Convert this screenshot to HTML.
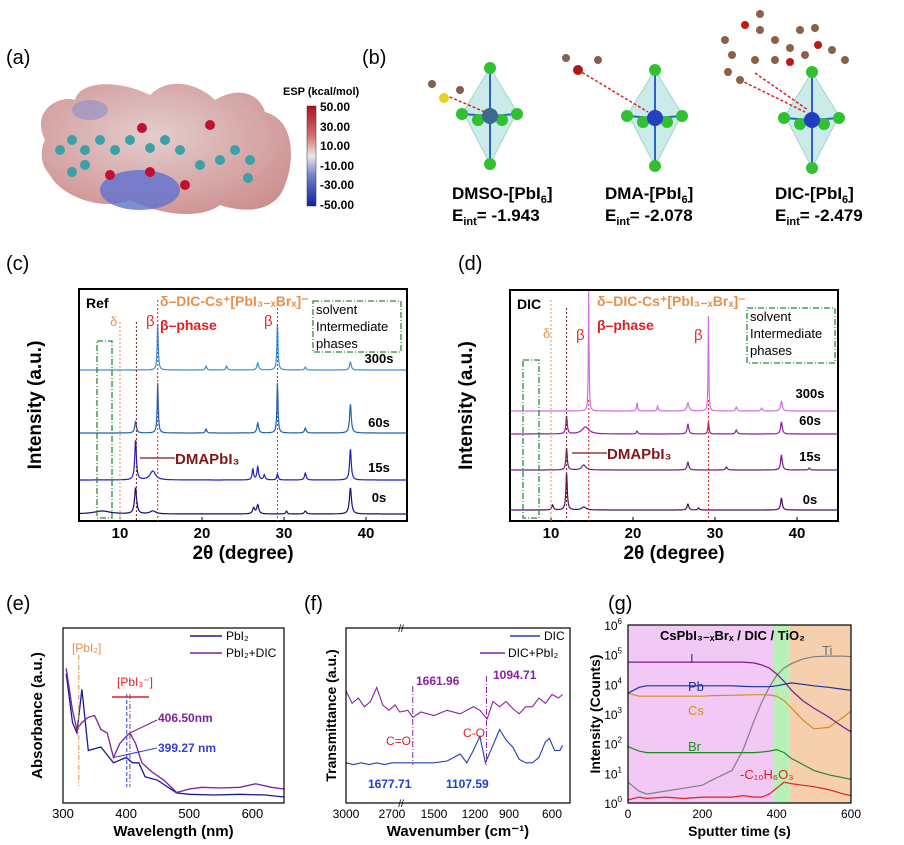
<!DOCTYPE html>
<html><head><meta charset="utf-8"><style>
html,body{margin:0;padding:0;background:#fff;}
svg{display:block;font-family:"Liberation Sans",Arial,sans-serif;}
</style></head><body>
<svg id="fig" width="904" height="845" viewBox="0 0 904 845" xmlns="http://www.w3.org/2000/svg">
<defs>
<linearGradient id="cbar" x1="0" y1="0" x2="0" y2="1">
<stop offset="0" stop-color="#b01020"/><stop offset="0.3" stop-color="#d07070"/><stop offset="0.5" stop-color="#e8e8e8"/><stop offset="0.7" stop-color="#7080c8"/><stop offset="1" stop-color="#1020a0"/></linearGradient>
<radialGradient id="esp" cx="0.45" cy="0.4" r="0.7"><stop offset="0" stop-color="#e0c8c8"/><stop offset="1" stop-color="#c88080"/></radialGradient>
</defs>
<g font-size="20">
<text x="6" y="64">(a)</text><text x="362" y="64">(b)</text>
<text x="6" y="270">(c)</text><text x="458" y="270">(d)</text>
<text x="6" y="610">(e)</text><text x="304" y="610">(f)</text><text x="608" y="610">(g)</text>
</g>
<!-- panel a -->
<g>
<path d="M45,140 C30,110 60,95 75,100 C80,80 120,80 150,95 C170,75 200,85 215,100 C240,85 260,95 265,112 C295,120 295,160 285,185 C275,215 240,212 220,205 C200,220 160,215 130,200 C100,212 60,195 50,175 C40,165 40,150 45,140Z" fill="url(#esp)" opacity="0.9"/>
<ellipse cx="140" cy="190" rx="40" ry="20" fill="#6070d0" opacity="0.8"/>
<ellipse cx="90" cy="110" rx="18" ry="10" fill="#8a90c8" opacity="0.6"/>
<g fill="#3ba0a8"><circle cx="60" cy="150" r="5"/><circle cx="72" cy="140" r="5"/><circle cx="85" cy="150" r="5"/><circle cx="85" cy="165" r="5"/><circle cx="72" cy="172" r="5"/><circle cx="100" cy="140" r="5"/><circle cx="115" cy="150" r="5"/><circle cx="130" cy="140" r="5"/><circle cx="150" cy="148" r="5"/><circle cx="165" cy="140" r="5"/><circle cx="180" cy="150" r="5"/><circle cx="200" cy="165" r="5"/><circle cx="220" cy="160" r="5"/><circle cx="235" cy="150" r="5"/><circle cx="250" cy="160" r="5"/><circle cx="248" cy="178" r="5"/></g>
<g fill="#c01030"><circle cx="142" cy="128" r="5"/><circle cx="210" cy="125" r="5"/><circle cx="150" cy="172" r="5"/><circle cx="185" cy="185" r="5"/><circle cx="110" cy="175" r="5"/></g>
</g>
<g font-size="12" font-weight="bold">
<text x="283" y="95" font-size="11">ESP (kcal/mol)</text>
<rect x="307" y="106" width="9" height="100" fill="url(#cbar)" stroke="#333" stroke-width="0.5"/>
<text x="320" y="111">50.00</text><text x="320" y="131">30.00</text><text x="320" y="150">10.00</text><text x="320" y="170">-10.00</text><text x="320" y="189">-30.00</text><text x="320" y="209">-50.00</text>
</g>
<!-- panel b -->
<g id="octs"></g>
<g font-size="17" font-weight="bold">
<text x="452" y="199">DMSO-[PbI<tspan font-size="11" dy="4">6</tspan><tspan dy="-4">]</tspan></text>
<text x="452" y="221">E<tspan font-size="11" dy="4">int</tspan><tspan dy="-4">= -1.943</tspan></text>
<text x="605" y="199">DMA-[PbI<tspan font-size="11" dy="4">6</tspan><tspan dy="-4">]</tspan></text>
<text x="605" y="221">E<tspan font-size="11" dy="4">int</tspan><tspan dy="-4">= -2.078</tspan></text>
<text x="775" y="199">DIC-[PbI<tspan font-size="11" dy="4">6</tspan><tspan dy="-4">]</tspan></text>
<text x="775" y="221">E<tspan font-size="11" dy="4">int</tspan><tspan dy="-4">= -2.479</tspan></text>
</g>
<g id="charts"></g>
</svg>
<script>
// ===== XRD data (c) Ref =====
const refLabels = ["0s","15s","60s","300s"];
const refPeaks0 = [[7.8,3,1.2],[11.9,26,0.15],[14.0,3,0.4],[26.3,6,0.15],[26.8,9,0.15],[30.3,3,0.1],[32.6,3,0.15],[38.1,26,0.15]];
const refPeaks15 = [[11.9,40,0.12],[14.0,9,0.4],[26.2,11,0.1],[26.8,13,0.12],[27.6,5,0.12],[29.2,6,0.1],[32.6,7,0.12],[38.1,31,0.12]];
const refPeaks60 = [[11.9,12,0.12],[14.6,50,0.08],[20.5,4,0.1],[26.8,10,0.12],[29.2,50,0.08],[32.6,5,0.12],[38.1,29,0.12]];
const refPeaks300 = [[14.6,46,0.08],[20.5,4,0.1],[23,4,0.1],[26.8,7,0.12],[29.2,46,0.08],[32.6,3,0.1],[38.1,8,0.12]];
const refBase = [514,480,433,370];
// ===== XRD data (d) DIC =====
const dicPeaks0 = [[10.2,5,0.12],[11.9,37,0.1],[14.0,3,0.3],[26.7,6,0.12],[28,2,0.1],[38.1,12,0.12]];
const dicPeaks15 = [[11.9,22,0.1],[14.0,5,0.3],[26.7,8,0.12],[31.4,3,0.12],[38.1,15,0.12],[41.5,2,0.1]];
const dicPeaks60 = [[11.9,18,0.1],[14.2,7,0.5],[20.5,3,0.1],[26.7,10,0.12],[29.2,12,0.08],[32.6,4,0.12],[38.1,12,0.12]];
const dicPeaks300 = [[14.6,120,0.05],[20.5,8,0.08],[23,5,0.08],[26.7,8,0.15],[29.2,95,0.05],[32.6,4,0.1],[35.7,3,0.1],[38.1,10,0.12]];
const dicBase = [510,470,434,411];
// ===== UV-vis (e) =====
const uvDicWl = [305,315,322,330,340,350,360,370,380,390,400,406,415,425,440,460,480,500,520,550,580,605,630,650];
const uvDicAbs = [0.77,0.53,0.42,0.46,0.49,0.50,0.42,0.40,0.26,0.34,0.38,0.40,0.34,0.23,0.18,0.13,0.06,0.08,0.09,0.086,0.09,0.11,0.09,0.08];
const uvPbWl = [305,315,322,330,340,360,380,400,410,420,430,450,480,500,540,580,620,650];
const uvPbAbs = [0.74,0.46,0.40,0.65,0.30,0.32,0.23,0.26,0.23,0.23,0.15,0.13,0.057,0.05,0.046,0.05,0.046,0.034];
// ===== FTIR (f) =====
const irDicWn = [3000,2950,2900,2850,2800,2750,2700,2650,1700,1677,1600,1500,1400,1300,1250,1200,1150,1108,1050,1000,950,900,850,800,750,700,650,620,580,540,520];
const irDicT = [0.23,0.22,0.23,0.22,0.23,0.22,0.23,0.23,0.23,0.23,0.23,0.23,0.24,0.28,0.23,0.30,0.38,0.23,0.33,0.42,0.36,0.32,0.25,0.23,0.23,0.26,0.35,0.37,0.30,0.30,0.33];
const irMixWn = [3000,2960,2920,2880,2840,2800,2760,2720,2680,2650,1700,1662,1600,1500,1400,1300,1200,1150,1095,1050,1000,950,900,850,800,750,700,650,600,550,520];
const irMixT = [0.64,0.57,0.60,0.55,0.58,0.66,0.56,0.53,0.56,0.52,0.53,0.49,0.52,0.50,0.53,0.51,0.55,0.53,0.48,0.58,0.55,0.58,0.54,0.51,0.55,0.55,0.60,0.57,0.62,0.60,0.62];
// ===== ToF-SIMS (g) log10 counts =====
const simsT = [0,30,50,100,150,200,230,280,310,340,360,380,400,420,440,470,500,540,580,600];
const simsI = [4.75,4.75,4.75,4.75,4.75,4.75,4.75,4.75,4.75,4.72,4.65,4.55,4.35,4.1,3.8,3.45,3.2,2.9,2.55,2.4];
const simsPb = [3.7,3.9,3.95,3.95,3.95,3.95,3.95,3.95,3.93,3.92,3.92,3.92,3.95,4.0,4.05,4.0,3.95,3.9,3.83,3.8];
const simsCs = [3.7,3.6,3.6,3.6,3.6,3.6,3.62,3.63,3.64,3.65,3.65,3.64,3.6,3.45,3.2,2.8,2.5,2.55,2.9,3.1];
const simsTi = [0.7,0.4,0.3,0.4,0.5,0.6,0.8,1.1,1.8,2.8,3.4,3.9,4.3,4.55,4.7,4.85,4.93,4.95,4.95,4.93];
const simsBr = [1.9,1.75,1.7,1.7,1.7,1.7,1.7,1.7,1.7,1.7,1.72,1.75,1.8,1.7,1.5,1.3,1.1,0.95,0.85,0.8];
const simsC = [0.1,0.2,0.15,0.2,0.15,0.2,0.2,0.2,0.25,0.2,0.2,0.3,0.5,0.7,0.65,0.6,0.55,0.45,0.3,0.25];

const NS="http://www.w3.org/2000/svg";
const root=document.getElementById('charts');
function el(tag,attrs,parent,text){const e=document.createElementNS(NS,tag);for(const k in attrs)e.setAttribute(k,attrs[k]);if(text!==undefined)e.textContent=text;(parent||root).appendChild(e);return e;}
function txt(x,y,s,size,extra,parent){const a=Object.assign({x:x,y:y,'font-size':size},extra||{});return el('text',a,parent,s);}

// ---------- XRD panel ----------
function xrd(x0,x1,y0,y1,peaksArr,bases,colors,labels,title,labY,tag){
  const g=el('g',{});
  
  
  const sx=t=>x0+(t-5)/(45-5)*(x1-x0);
  for(let s=0;s<peaksArr.length;s++){
    let d='';
    for(let t=5;t<=45.001;t+=0.04){
      let v=0;for(const p of peaksArr[s]){const w=p[2];v+=p[1]*w*w/((t-p[0])*(t-p[0])+w*w);}
      d+=(d?'L':'M')+sx(t).toFixed(1)+','+(bases[s]-v).toFixed(1);
    }
    const path=el('path',{d:d,fill:'none',stroke:colors[s],'stroke-width':1.2},g);
    
    
    const lt=txt(x1-28,labY[s],labels[s],13,{'font-weight':'bold','text-anchor':'middle'},g);
    
    
  }
  el('rect',{x:x0,y:y0,width:x1-x0,height:y1-y0,fill:'none',stroke:'#000','stroke-width':2},g);
  [10,20,30,40].forEach(t=>{el('line',{x1:sx(t),x2:sx(t),y1:y1,y2:y1-4,stroke:'#000'},g);txt(sx(t),y1+17,String(t),15,{'font-weight':'bold','text-anchor':'middle'},g);});
  txt((x0+x1)/2,y1+38,'2θ (degree)',19,{'font-weight':'bold','text-anchor':'middle'},g);
  txt(x0-38,(y0+y1)/2,'Intensity (a.u.)',19,{'font-weight':'bold','text-anchor':'middle',transform:`rotate(-90 ${x0-38} ${(y0+y1)/2})`},g);
  txt(x0+7,y0+19,title,14,{'font-weight':'bold'},g);
  return {g,sx};
}
// (c)
let c=xrd(79,407,289,521,[refPeaks0,refPeaks15,refPeaks60,refPeaks300],refBase,['#101070','#2020c0','#2060b0','#3a90dc'],refLabels,'Ref',[502,472,427,363],'ref');
el('line',{x1:c.sx(10),x2:c.sx(10),y1:322,y2:521,stroke:'#e09050','stroke-dasharray':'2,2'},c.g);
el('line',{x1:c.sx(12),x2:c.sx(12),y1:322,y2:521,stroke:'#801818','stroke-dasharray':'2,2'},c.g);
el('line',{x1:c.sx(14.6),x2:c.sx(14.6),y1:300,y2:521,stroke:'#e02020','stroke-dasharray':'2,2'},c.g);
el('line',{x1:c.sx(29.2),x2:c.sx(29.2),y1:300,y2:521,stroke:'#e02020','stroke-dasharray':'2,2'},c.g);
el('rect',{x:97,y:341,width:15,height:177,fill:'none',stroke:'#2a8a3a','stroke-dasharray':'6,2,1,2','stroke-width':1.3},c.g);
el('rect',{x:313,y:301,width:88,height:51,fill:'none',stroke:'#2a8a3a','stroke-dasharray':'6,2,1,2','stroke-width':1.3},c.g);
txt(316,314,'solvent',13,{},c.g);txt(316,331,'Intermediate',13,{},c.g);txt(316,348,'phases',13,{},c.g);
txt(160,306,'δ–DIC-Cs⁺[PbI₃₋ₓBrₓ]⁻',14,{fill:'#e8904a','font-weight':'bold'},c.g);
txt(160,330,'β–phase',14,{fill:'#e02020','font-weight':'bold'},c.g);
txt(110,326,'δ',13,{fill:'#e8904a'},c.g);
txt(146,326,'β',15,{fill:'#e03030'},c.g);txt(264,326,'β',15,{fill:'#e03030'},c.g);
el('line',{x1:175,x2:140,y1:458,y2:458,stroke:'#801818','stroke-width':1.2},c.g);
txt(175,464,'DMAPbI₃',15,{fill:'#801818','font-weight':'bold'},c.g);
// (d)
let dd=xrd(510,838,290,521,[dicPeaks0,dicPeaks15,dicPeaks60,dicPeaks300],dicBase,['#501060','#702080','#9020a0','#d070e0'],refLabels,'DIC',[504,461,425,398],'dic');
el('line',{x1:dd.sx(10),x2:dd.sx(10),y1:300,y2:521,stroke:'#e09050','stroke-dasharray':'2,2'},dd.g);
el('line',{x1:dd.sx(11.9),x2:dd.sx(11.9),y1:308,y2:521,stroke:'#801818','stroke-dasharray':'2,2'},dd.g);
el('line',{x1:dd.sx(14.6),x2:dd.sx(14.6),y1:400,y2:521,stroke:'#e02020','stroke-dasharray':'2,2'},dd.g);
el('line',{x1:dd.sx(29.2),x2:dd.sx(29.2),y1:400,y2:521,stroke:'#e02020','stroke-dasharray':'2,2'},dd.g);
el('rect',{x:523,y:360,width:16,height:158,fill:'none',stroke:'#2a8a3a','stroke-dasharray':'6,2,1,2','stroke-width':1.3},dd.g);
el('rect',{x:747,y:308,width:88,height:55,fill:'none',stroke:'#2a8a3a','stroke-dasharray':'6,2,1,2','stroke-width':1.3},dd.g);
txt(750,321,'solvent',13,{},dd.g);txt(750,338,'Intermediate',13,{},dd.g);txt(750,355,'phases',13,{},dd.g);
txt(597,306,'δ–DIC-Cs⁺[PbI₃₋ₓBrₓ]⁻',14,{fill:'#e8904a','font-weight':'bold'},dd.g);
txt(597,330,'β–phase',14,{fill:'#e02020','font-weight':'bold'},dd.g);
txt(543,338,'δ',13,{fill:'#e8904a'},dd.g);
txt(576,340,'β',15,{fill:'#e03030'},dd.g);txt(694,340,'β',15,{fill:'#e03030'},dd.g);
el('line',{x1:607,x2:572,y1:453,y2:453,stroke:'#801818','stroke-width':1.2},dd.g);
txt(607,459,'DMAPbI₃',15,{fill:'#801818','font-weight':'bold'},dd.g);

// ---------- (e) UV-vis ----------
(function(){
  const g=el('g',{});
  const x0=63,x1=284,y0=628,y1=803;
  const sx=w=>x0+(w-300)/(650-300)*(x1-x0), sy=v=>y1-v*(y1-y0);
  function line(xs,ys,col,name){let d='';xs.forEach((x,i)=>d+=(i?'L':'M')+sx(x).toFixed(1)+','+sy(ys[i]).toFixed(1));const p=el('path',{d:d,fill:'none',stroke:col,'stroke-width':1.3},g);}
  line(uvPbWl,uvPbAbs,'#1a1a90','pbi2-spectrum');line(uvDicWl,uvDicAbs,'#7a20a0','pbi2-dic-spectrum');
  el('rect',{x:x0,y:y0,width:x1-x0,height:y1-y0,fill:'none',stroke:'#000','stroke-width':1.2},g);
  [300,400,500,600].forEach(w=>txt(sx(w),y1+15,String(w),13,{'text-anchor':'middle'},g));
  txt((x0+x1)/2,y1+33,'Wavelength (nm)',15,{'font-weight':'bold','text-anchor':'middle'},g);
  txt(42,(y0+y1)/2,'Absorbance (a.u.)',15,{'font-weight':'bold','text-anchor':'middle',transform:`rotate(-90 42 ${(y0+y1)/2})`},g);
  el('line',{x1:sx(325),x2:sx(325),y1:655,y2:786,stroke:'#e09040','stroke-dasharray':'5,2,1,2'},g);
  txt(72,652,'[PbI₂]',12,{fill:'#e09040'},g);
  el('line',{x1:sx(401),x2:sx(401),y1:694,y2:787,stroke:'#3040d0','stroke-dasharray':'4,2'},g);
  el('line',{x1:sx(406),x2:sx(406),y1:694,y2:787,stroke:'#8030b0','stroke-dasharray':'5,2,1,2'},g);
  txt(117,686,'[PbI₃⁻]',12,{fill:'#e02020'},g);
  el('line',{x1:112,x2:149,y1:697,y2:697,stroke:'#e02020','stroke-width':1.5},g);
  el('line',{x1:sx(406),x2:157,y1:sy(0.40),y2:720,stroke:'#7a20a0'},g);
  txt(158,722,'406.50nm',12,{fill:'#7a20a0','font-weight':'bold'},g);
  el('line',{x1:sx(380),x2:157,y1:sy(0.26),y2:748,stroke:'#3040d0'},g);
  txt(158,752,'399.27 nm',12,{fill:'#3040d0','font-weight':'bold'},g);
  el('line',{x1:190,x2:222,y1:636,y2:636,stroke:'#1a1a90','stroke-width':1.5},g);txt(226,640,'PbI₂',12,{},g);
  el('line',{x1:190,x2:222,y1:653,y2:653,stroke:'#7a20a0','stroke-width':1.5},g);txt(226,657,'PbI₂+DIC',12,{},g);
})();

// ---------- (f) FTIR ----------
(function(){
  const g=el('g',{});
  const x0=346,x1=570,y0=628,y1=803;
  const sx=w=>w>=2600?x0+(3000-w)*0.1533:434+(1500-w)*0.1311, sy=v=>y1-v*(y1-y0);
  function line(xs,ys,col,name){let d='';xs.forEach((x,i)=>d+=(i?'L':'M')+sx(x).toFixed(1)+','+sy(ys[i]).toFixed(1));const p=el('path',{d:d,fill:'none',stroke:col,'stroke-width':1.1},g);}
  line(irDicWn,irDicT,'#2040b0','dic-spectrum');line(irMixWn,irMixT,'#8a20a0','dic-pbi2-spectrum');
  el('rect',{x:x0,y:y0,width:x1-x0,height:y1-y0,fill:'none',stroke:'#000','stroke-width':1.2},g);
  [[3000,346],[2700,392],[1500,434],[1200,475],[900,509],[600,552]].forEach(t=>txt(t[1],y1+15,String(t[0]),12,{'text-anchor':'middle'},g));
  txt(401,y0+4,'//',10,{'text-anchor':'middle'},g);txt(401,y1+4,'//',10,{'text-anchor':'middle'},g);
  txt((x0+x1)/2,y1+33,'Wavenumber (cm⁻¹)',15,{'font-weight':'bold','text-anchor':'middle'},g);
  txt(336,(y0+y1)/2,'Transmittance (a.u.)',14,{'font-weight':'bold','text-anchor':'middle',transform:`rotate(-90 336 ${(y0+y1)/2})`},g);
  el('line',{x1:sx(1662),x2:sx(1662),y1:686,y2:765,stroke:'#8a20a0','stroke-dasharray':'6,2,1,2'},g);
  el('line',{x1:sx(1100),x2:sx(1100),y1:676,y2:765,stroke:'#8a20a0','stroke-dasharray':'6,2,1,2'},g);
  txt(416,685,'1661.96',12,{fill:'#8a20a0','font-weight':'bold'},g);txt(493,679,'1094.71',12,{fill:'#8a20a0','font-weight':'bold'},g);
  txt(386,745,'C=O',12,{fill:'#e02020'},g);txt(463,737,'C-O',12,{fill:'#e02020'},g);
  txt(368,788,'1677.71',12,{fill:'#2040d0','font-weight':'bold'},g);txt(446,788,'1107.59',12,{fill:'#2040d0','font-weight':'bold'},g);
  el('line',{x1:510,x2:540,y1:636,y2:636,stroke:'#2040b0','stroke-width':1.5},g);txt(544,640,'DIC',12,{},g);
  el('line',{x1:480,x2:505,y1:653,y2:653,stroke:'#8a20a0','stroke-width':1.5},g);txt(508,657,'DIC+PbI₂',12,{},g);
})();

// ---------- (g) SIMS ----------
(function(){
  const g=el('g',{});
  const x0=628,x1=851,y0=625,y1=803;
  const sx=t=>x0+t/600*(x1-x0), sy=l=>y1-l/6*(y1-y0);
  el('rect',{x:x0,y:y0,width:sx(390)-x0,height:y1-y0,fill:'#f2c8f4'},g);
  el('rect',{x:sx(390),y:y0,width:sx(435)-sx(390),height:y1-y0,fill:'#b8f0b8'},g);
  el('rect',{x:sx(435),y:y0,width:x1-sx(435),height:y1-y0,fill:'#f6cfae'},g);
  const series=[[simsTi,'#808080','ti'],[simsC,'#e02020','c10h6o3'],[simsBr,'#208a20','br'],[simsCs,'#d09020','cs'],[simsPb,'#1a30a0','pb'],[simsI,'#7a1a8a','i']];
  series.forEach(s=>{let d='';simsT.forEach((t,i)=>d+=(i?'L':'M')+sx(t).toFixed(1)+','+sy(s[0][i]).toFixed(1));const p=el('path',{d:d,fill:'none',stroke:s[1],'stroke-width':1.2},g);});
  el('rect',{x:x0,y:y0,width:x1-x0,height:y1-y0,fill:'none',stroke:'#000','stroke-width':1.2},g);
  for(let k=0;k<=6;k++){const t=txt(x0-6,sy(k)+5,'10',12,{'text-anchor':'end'},g);const sp=el('tspan',{dy:-6,'font-size':8},t,String(k));}
  [0,200,400,600].forEach(t=>txt(sx(t),y1+15,String(t),12,{'text-anchor':'middle'},g));
  txt((x0+x1)/2,y1+33,'Sputter time (s)',14,{'font-weight':'bold','text-anchor':'middle'},g);
  txt(600,(y0+y1)/2,'Intensity (Counts)',14,{'font-weight':'bold','text-anchor':'middle',transform:`rotate(-90 600 ${(y0+y1)/2})`},g);
  txt(660,640,'CsPbI₃₋ₓBrₓ  / DIC /  TiO₂',13,{'font-weight':'bold'},g);
  txt(690,663,'I',13,{fill:'#7a1a8a'},g);txt(688,691,'Pb',13,{fill:'#1a30a0'},g);
  txt(688,715,'Cs',13,{fill:'#d09020'},g);txt(688,751,'Br',13,{fill:'#208a20'},g);
  txt(822,655,'Ti',13,{fill:'#707070'},g);txt(740,779,'-C₁₀H₆O₃',13,{fill:'#e02020'},g);
})();

// ---------- (b) octahedra ----------
(function(){
  const g=document.getElementById('octs');
  const centers=[[490,116],[655,118],[812,120]];
  const pb=['#3a6a90','#2040c0','#2040c0'];
  centers.forEach((c,i)=>{
    const [cx,cy]=c;
    el('polygon',{points:`${cx},${cy-48} ${cx+27},${cy-4} ${cx},${cy+48} ${cx-27},${cy-4}`,fill:'#bfe6e6',stroke:'#90c8c8',opacity:0.8},g);
    [[0,-48],[0,48],[-28,-2],[27,-2],[-12,4],[12,4]].forEach(o=>{el('line',{x1:cx,y1:cy,x2:cx+o[0],y2:cy+o[1],stroke:'#3060c0','stroke-width':2},g);el('circle',{cx:cx+o[0],cy:cy+o[1],r:6,fill:'#30c030'},g);});
    el('circle',{cx:cx,cy:cy,r:8,fill:pb[i]},g);
  });
  el('line',{x1:445,y1:95,x2:485,y2:112,stroke:'#e02020','stroke-dasharray':'3,2','stroke-width':1.5},g);
  el('circle',{cx:444,cy:98,r:5,fill:'#e8d020'},g);el('circle',{cx:432,cy:84,r:4,fill:'#806050'},g);el('circle',{cx:460,cy:90,r:4,fill:'#806050'},g);
  el('line',{x1:578,y1:70,x2:648,y2:112,stroke:'#e02020','stroke-dasharray':'3,2','stroke-width':1.5},g);
  el('circle',{cx:578,cy:70,r:5,fill:'#b01818'},g);el('circle',{cx:566,cy:58,r:4,fill:'#806050'},g);el('circle',{cx:598,cy:60,r:4,fill:'#806050'},g);
  el('line',{x1:740,y1:80,x2:805,y2:112,stroke:'#e02020','stroke-dasharray':'3,2','stroke-width':1.5},g);
  el('line',{x1:755,y1:73,x2:808,y2:110,stroke:'#e02020','stroke-dasharray':'3,2','stroke-width':1.5},g);
  [[725,40],[732,55],[728,72],[740,80],[745,25],[760,30],[775,40],[790,48],[805,55],[818,45],[832,50],[845,60],[755,60],[775,60],[790,62],[800,30],[815,28],[760,14]].forEach((p,k)=>el('circle',{cx:p[0],cy:p[1],r:4,fill:k%5==4?'#c01818':'#8a6048'},g));
})();
</script>
</body></html>
